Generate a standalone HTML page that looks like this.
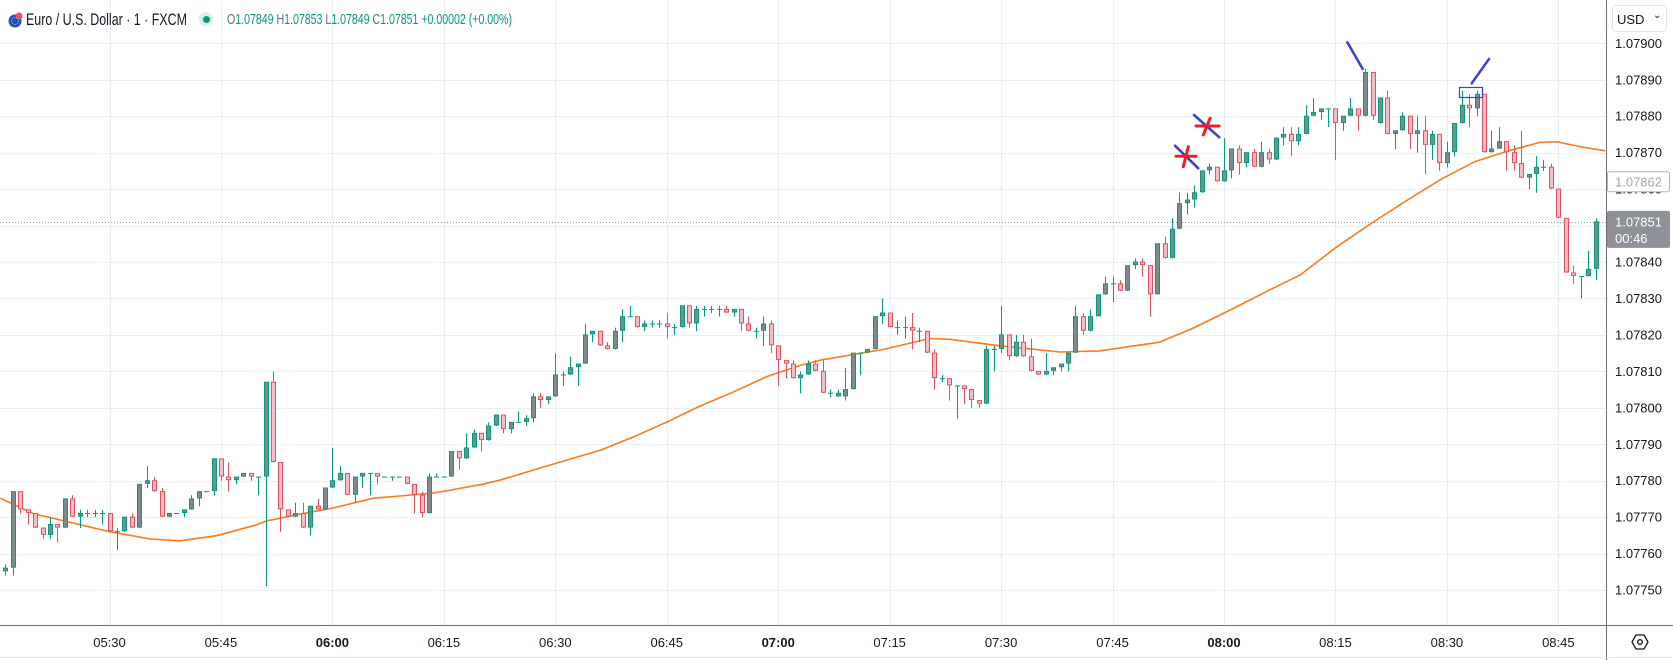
<!DOCTYPE html>
<html><head><meta charset="utf-8"><style>
html,body{margin:0;padding:0;background:#fff;}
body{width:1673px;height:660px;overflow:hidden;font-family:"Liberation Sans",sans-serif;}
#chart{position:absolute;left:0;top:0;}
.fit{display:inline-block;transform-origin:0 50%;white-space:nowrap;}
</style></head><body>
<svg id="chart" width="1673" height="660" xmlns="http://www.w3.org/2000/svg"></svg>
<script>
// ---- data (prices in points above base: price = base + v*0.00001) ----
const base = 1.07700;
const startTime = "05:16";
const opens  = [55,56,77,72,71,67,65,68,67,75,70,71,71,71,71,66,66,70,67,79,80,77,70,71,71,72,75,77,77,86,81,80,81,82,81,81,107,85,72,70,71,67,73,72,78,80,82,76,81,82,82,81,81,81,81,79,76,71,81,81,81,88,86,89,93,91,95,98,94,96,96,97,103,102,103,109,109,111,112,120,121,117,116,121,125,125,122,123,123,123,122,122,128,123,127,127,127,127,126,127,123,121,121,123,117,113,112,108,109,112,110,104,103,103,105,115,115,116,125,126,122,122,122,121,121,115,108,108,106,106,105,102,101,116,116,120,114,118,114,110,109,110,111,112,115,125,121,125,131,134,134,132,139,140,139,131,145,141,149,156,157,159,165,166,162,165,171,167,170,166,170,168,174,175,173,175,180,181,182,182,178,180,182,180,192,178,185,175,176,180,175,176,172,175,167,170,178,183,182,186,170,171,173,170,167,163,164,166,166,160,152,137,136,136,138];
const highs  = [57,77,77,72,71,67,70,68,75,76,72,72,72,72,71,67,70,71,79,84,81,78,71,71,72,76,77,77,86,86,85,81,82,82,81,107,110,85,72,74,74,73,75,78,89,84,82,81,82,82,82,81,81,81,81,79,77,82,82,81,88,88,93,94,93,96,98,98,96,99,98,104,104,103,115,110,114,112,123,121,121,118,122,127,128,125,124,124,124,126,123,128,128,128,128,128,128,128,127,127,125,122,125,124,117,113,113,110,113,113,113,105,105,111,115,115,116,125,130,126,124,125,126,122,121,116,109,108,106,106,105,102,117,117,128,120,120,120,119,110,115,111,112,115,128,126,127,131,136,136,135,139,141,141,139,145,147,152,159,159,161,165,167,166,174,171,172,170,171,173,171,174,177,177,177,183,185,182,182,182,180,185,182,193,192,185,187,176,181,180,180,180,176,175,173,178,187,186,187,186,176,177,173,172,176,164,169,168,167,160,152,139,136,143,152];
const lows   = [54,54,71,68,67,64,64,63,67,70,67,70,70,68,66,61,66,67,67,78,77,70,70,71,70,72,73,77,76,80,77,79,81,80,76,51,85,66,70,70,67,65,72,72,78,80,76,74,78,76,79,81,80,81,79,71,70,71,81,81,81,83,86,89,88,91,95,93,93,96,95,96,100,101,103,106,109,106,112,118,117,116,116,118,125,122,121,122,122,119,120,122,122,121,125,126,125,126,125,121,121,119,117,115,106,108,108,104,109,110,104,103,103,102,105,109,115,116,123,122,120,119,116,118,115,105,107,102,97,101,100,100,101,110,115,113,114,114,110,109,109,109,110,110,115,120,121,125,131,129,132,132,138,136,125,131,141,141,149,153,155,159,164,162,162,163,164,166,166,166,167,168,172,169,172,175,180,179,177,168,176,180,176,180,179,178,175,171,176,171,170,164,168,165,166,169,178,177,180,170,170,171,165,165,163,160,159,165,160,152,137,134,130,136,135];
const closes = [56,77,72,71,67,65,68,67,75,70,71,71,71,71,66,66,70,67,79,80,77,70,71,71,72,75,77,77,86,81,80,81,82,81,81,107,85,72,70,71,67,73,72,78,80,82,76,81,82,82,81,81,81,81,79,76,71,81,81,81,88,86,89,93,91,95,98,94,96,96,97,103,102,103,109,109,111,112,120,121,117,116,121,125,125,122,123,123,123,122,122,128,123,127,127,127,127,126,127,123,121,121,123,117,113,112,108,109,112,110,104,104,104,105,115,115,116,125,126,122,122,122,121,121,115,108,108,106,106,105,102,101,116,116,120,114,118,114,110,109,110,111,112,115,125,121,125,131,134,134,132,139,140,139,131,145,141,149,156,157,159,165,166,162,165,171,167,170,166,170,168,174,175,173,175,180,181,182,182,178,180,182,180,192,180,185,175,176,180,175,176,172,175,167,170,178,183,182,186,170,171,173,170,167,163,164,166,166,160,152,137,136,136,138,151];
// moving average readings: candle index -> points
const maIndex = [-0.7,3.7,8.2,14,19.5,23.5,28.4,33.8,35.2,39.6,44.1,49.5,53.1,57.6,63.9,66.6,73.3,80.1,84.6,89.1,93.5,98,102.5,106.9,109.7,118.1,124.4,127.1,133.8,141.9,147.2,155.3,160,165,170.2,174.3,179.2,184.2,188.7,193.2,197.7,202.3,206.5,208.7,211.8,215.3];
const maValue = [75.2,71,68.8,66,64,63.5,64.9,67.9,69,70.8,72.5,75.2,75.8,76.6,78.9,80.2,84.3,88.4,92.1,96.2,100.5,104.4,108.6,111.6,113.1,116,119,118.8,117,115.3,115.6,118,122,127,132.4,136.5,144.2,151.1,157,162.7,167.5,170.5,172.8,173,171.7,170.5];
const priceTicks = ["1.07900","1.07890","1.07880","1.07870","1.07860","1.07850","1.07840","1.07830","1.07820","1.07810","1.07800","1.07790","1.07780","1.07770","1.07760","1.07750"];
const timeTicks = ["05:30","05:45","06:00","06:15","06:30","06:45","07:00","07:15","07:30","07:45","08:00","08:15","08:30","08:45"];
const lastPrice = "1.07851";
const maLabel = "1.07862";

// ---- scales ----
const NS = "http://www.w3.org/2000/svg";
const svg = document.getElementById('chart');
const plotRight = 1606, axisBottom = 625.5;
const barStep = 7.43;
const x0 = 5.48;
function xScale(i){ return x0 + i*barStep; }
function minutesOf(t){ const p=t.split(':'); return (+p[0])*60+(+p[1]); }
function xTime(t){ return xScale(minutesOf(t)-minutesOf(startTime)); }
const yTop = 43.3, pxPerTick = 36.45; // 0.0001 per tick
function yPrice(p){ return yTop + (1.07900 - p)/0.0001*pxPerTick; }
function yPts(v){ return yPrice(base + v*0.00001); }
function mk(tag, attrs, parent){ const e=document.createElementNS(NS,tag); for(const k in attrs) e.setAttribute(k,attrs[k]); (parent||svg).appendChild(e); return e; }

// grid
const grid = mk('g',{});


priceTicks.forEach(t=>{ const y=Math.round(yPrice(+t))+0.5; mk('line',{x1:0,x2:plotRight,y1:y,y2:y,stroke:'#e9eef4','stroke-width':1},grid); });
timeTicks.forEach(t=>{ const x=Math.round(xTime(t))+0.5; mk('line',{x1:x,x2:x,y1:0,y2:axisBottom,stroke:'#e9eef4','stroke-width':1},grid); });

// current price dotted line
const cur = mk('line',{x1:0,x2:plotRight,y1:Math.round(yPrice(+lastPrice))+0.5,y2:Math.round(yPrice(+lastPrice))+0.5,stroke:'#9598a1','stroke-width':1,'stroke-dasharray':'1 2'});



// MA line
let d='';
maIndex.forEach((i,n)=>{ d += (n?'L':'M') + xScale(i).toFixed(1)+' '+yPts(maValue[n]).toFixed(1)+' '; });
const ma = mk('path',{d:d,fill:'none',stroke:'#ff7a1a','stroke-width':1.6,'stroke-linejoin':'round'});



// candles
const cg = mk('g',{});


for(let i=0;i<opens.length;i++){
  const o=opens[i],h=highs[i],l=lows[i],c=closes[i];
  const up = c>=o;
  const col = up?'#089981':'#e0525e';
  const fill = up?'#7b8c8b':'#f8bcc7';
  const x = Math.round(xScale(i));
  const g = mk('g',{},cg);
  
  
  mk('line',{x1:x+0.5,x2:x+0.5,y1:yPts(h),y2:yPts(l),stroke:col,'stroke-width':1},g);
  const yt = yPts(Math.max(o,c)), yb = yPts(Math.min(o,c));
  const hgt = Math.max(1, yb-yt);
  if(hgt<=1.5){ mk('rect',{x:x-2,y:yt-0.5,width:5,height:1,fill:col},g); }
  else mk('rect',{x:x-1.5,y:yt,width:4,height:hgt-1,fill:fill,stroke:col,'stroke-width':1},g);
}

// axes
const ax = mk('g',{});


mk('rect',{x:plotRight,y:0,width:1673-plotRight,height:660,fill:'#fff'},ax);
mk('rect',{x:0,y:axisBottom,width:1673,height:660-axisBottom,fill:'#fff'},ax);
mk('line',{x1:plotRight+0.5,x2:plotRight+0.5,y1:0,y2:660,stroke:'#6a6d78','stroke-width':1},ax);
mk('line',{x1:0,x2:1673,y1:axisBottom,y2:axisBottom,stroke:'#6a6d78','stroke-width':1},ax);
mk('line',{x1:0,x2:1673,y1:657.5,y2:657.5,stroke:'#e0e3eb','stroke-width':1},ax);

priceTicks.forEach(t=>{
  const tx = mk('text',{x:1615,y:yPrice(+t)+4.5,'font-size':13,fill:'#131722','font-family':'Liberation Sans, sans-serif'},ax);
  tx.textContent=t;
  
  
});
timeTicks.forEach(t=>{
  const tx = mk('text',{x:xTime(t),y:647,'font-size':13,fill:'#131722','text-anchor':'middle','font-weight':t.endsWith(':00')?'bold':'normal','font-family':'Liberation Sans, sans-serif'},ax);
  tx.textContent=t;
  
  
});

// MA value label
const yl = yPrice(+maLabel);
mk('rect',{x:1607.5,y:yl-10,width:62,height:20,fill:'#fff',stroke:'#b2b5be','stroke-width':1,rx:2},ax);
const mt = mk('text',{x:1615,y:yl+4.5,'font-size':13,fill:'#a3a6af'},ax);
mt.textContent = maLabel;



// last price label
const yc = yPrice(+lastPrice);
const lp = mk('rect',{x:1607,y:yc-11,width:63,height:37,fill:'#8f9199',rx:2},ax);


const lt = mk('text',{x:1615,y:yc+4.5,'font-size':13,fill:'#fff'},ax); lt.textContent=lastPrice;
const ct = mk('text',{x:1615,y:yc+21,'font-size':13,fill:'#fff'},ax); ct.textContent="00:46";


</script>

<svg width="1673" height="660" style="position:absolute;left:0;top:0;pointer-events:none" xmlns="http://www.w3.org/2000/svg">
  <g stroke="#3a3fd1" stroke-width="2.5" stroke-linecap="round" fill="none">
    <line x1="1175" y1="145.7" x2="1198.3" y2="168.3"/>
    <line x1="1194" y1="115" x2="1219.3" y2="137.3"/>
    <line x1="1347.3" y1="42.3" x2="1362.7" y2="69"/>
    <line x1="1471.7" y1="83.3" x2="1489" y2="59"/>
    <rect x="1459.5" y="87.5" width="23" height="10" stroke-width="1.2"/>
  </g>
  <g stroke="#ee1c25" stroke-width="3" stroke-linecap="round">
    <line x1="1176" y1="156.3" x2="1196" y2="156.3"/>
    <line x1="1188.3" y1="146.7" x2="1183.3" y2="166.7"/>
    <line x1="1196" y1="126" x2="1219" y2="126"/>
    <line x1="1210" y1="118.3" x2="1203.3" y2="135"/>
  </g>
</svg>

<div style="position:absolute;left:0;top:0;height:40px;width:900px;">
  <svg style="position:absolute;left:7px;top:12px" width="16" height="16">
    <circle cx="8" cy="9" r="6.5" fill="#1e4fc2"/>
    <circle cx="12" cy="4" r="3.5" fill="#e9505a"/>
    <circle cx="8" cy="9" r="3.5" fill="none" stroke="#ffd400" stroke-width="1" stroke-dasharray="1 1.5"/>
  </svg>
  <div style="position:absolute;left:26px;top:10px;height:20px;line-height:20px;">
    <span id="title" class="fit" style="font-size:17px;color:#131722;">Euro / U.S. Dollar · 1 · FXCM</span>
  </div>
  <div style="position:absolute;left:199px;top:12px;width:14px;height:14px;border-radius:50%;background:#d5efe9;">
    <div style="position:absolute;left:3.5px;top:3.5px;width:7px;height:7px;border-radius:50%;background:#089981;"></div>
  </div>
  <div style="position:absolute;left:227px;top:10px;height:20px;line-height:20px;">
    <span id="ohlc" class="fit" style="font-size:14.5px;color:#089981;"><span style="color:#6a6d78">O</span>1.07849 <span style="color:#6a6d78">H</span>1.07853 <span style="color:#6a6d78">L</span>1.07849 <span style="color:#6a6d78">C</span>1.07851 +0.00002 (+0.00%)</span>
  </div>
</div>
<script>
function fitTo(id, w){ const e=document.getElementById(id); const nw=e.getBoundingClientRect().width; if(nw>0) e.style.transform='scaleX('+(w/nw)+')'; }
fitTo('title',161);
fitTo('ohlc',285);
</script>

<div style="position:absolute;left:1612px;top:5px;width:55px;height:27px;border:1px solid #e0e3eb;border-radius:4px;box-sizing:border-box;font-size:13px;color:#131722;">
  <span style="position:absolute;left:4px;top:6px;">USD</span>
  <span style="position:absolute;left:40px;top:4px;font-size:10px;">⌄</span>
</div>

<svg style="position:absolute;left:1631px;top:633px" width="18" height="18">
  <polygon points="5,2 13,2 17,9 13,16 5,16 1,9" fill="none" stroke="#131722" stroke-width="1.3"/>
  <circle cx="9" cy="9" r="2.3" fill="none" stroke="#131722" stroke-width="1.3"/>
</svg>
</body></html>
